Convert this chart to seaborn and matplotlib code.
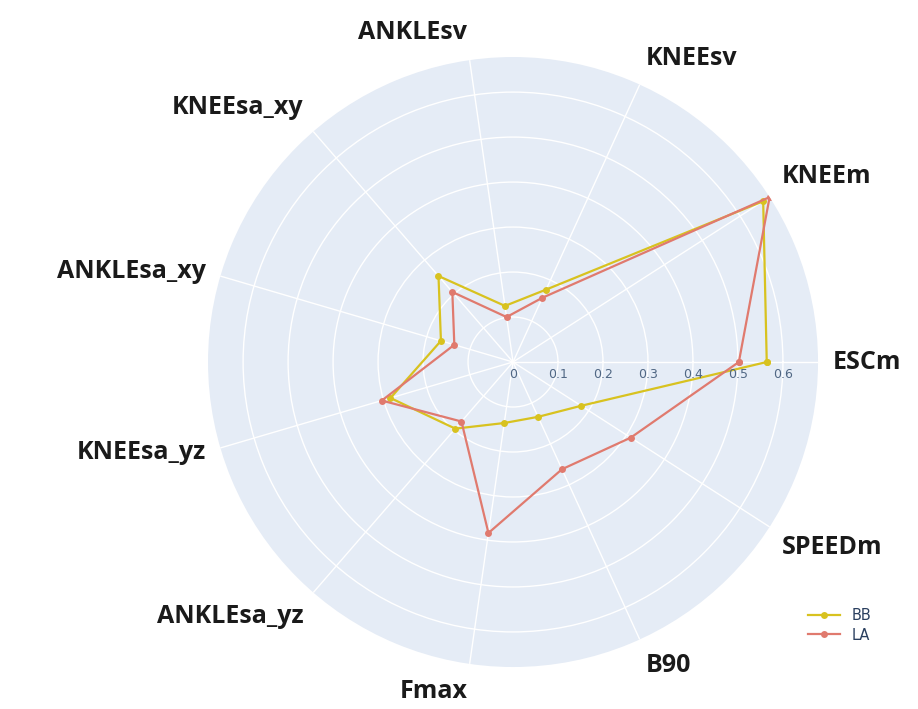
import numpy as np
import pandas as pd
import matplotlib
matplotlib.use("Agg")
import matplotlib.pyplot as plt
import seaborn as sns

categories = ["ESCm", "KNEEm", "KNEEsv", "ANKLEsv", "KNEEsa_xy", "ANKLEsa_xy",
              "KNEEsa_yz", "ANKLEsa_yz", "Fmax", "B90", "SPEEDm"]
bb_values = [0.564, 0.661, 0.177, 0.126, 0.253, 0.167,
             0.284, 0.196, 0.137, 0.134, 0.180]
la_values = [0.502, 0.678, 0.157, 0.101, 0.206, 0.136,
             0.304, 0.175, 0.384, 0.262, 0.311]
radial_ticks = [0, 0.1, 0.2, 0.3, 0.4, 0.5, 0.6]
radial_labels = ["0", "0.1", "0.2", "0.3", "0.4", "0.5", "0.6"]
groups = ["BB", "LA"]
colors = {"BB": "#D8C21F", "LA": "#E07A6E"}

n = len(categories)
angles = np.arange(n) * 2 * np.pi / n

# long table, closing each loop by repeating the first point
rows = []
for name, vals in zip(groups, [bb_values, la_values]):
    for k, i in enumerate(list(range(n)) + [0]):
        theta = 2 * np.pi if k == n else angles[i]
        rows.append({"theta": theta, "value": vals[i], "group": name})
df = pd.DataFrame(rows)

fig = plt.figure(figsize=(9.18, 7.09), dpi=100)
ax = fig.add_axes([0.2266, 0.0592, 0.6645, 0.8604], projection="polar")
ax.set_facecolor("#E5ECF6")
ax.set_theta_zero_location("E")
ax.set_ylim(0, max(la_values))

sns.lineplot(data=df, x="theta", y="value", hue="group", palette=colors,
             sort=False, estimator=None, marker="o", markersize=5,
             markeredgewidth=0, linewidth=1.6, ax=ax)

ax.set_xticks(angles)
ax.set_xticklabels([])
ax.set_yticks(radial_ticks[1:])
ax.set_yticklabels([])
ax.grid(True, color="white", linewidth=1.0)
ax.spines["polar"].set_visible(False)
ax.set_xlabel("")
ax.set_ylabel("")
ax.tick_params(length=0)

for t, lab in zip(radial_ticks, radial_labels):
    ax.annotate(lab, xy=(0, t), xytext=(0, -9), textcoords="offset points",
                ha="center", va="center", fontsize=9, color="#506784",
                family="DejaVu Sans")

label_r = max(la_values) * 320 / 305
for ang, cat in zip(angles, categories):
    c, s = np.cos(ang), np.sin(ang)
    ha = "left" if c > 0.1 else ("right" if c < -0.1 else "center")
    va = "bottom" if s > 0.5 else ("top" if s < -0.5 else "center")
    ax.text(ang, label_r, cat, ha=ha, va=va, fontsize=18, fontweight="bold",
            family="Open Sans", color="#1a1a1a", clip_on=False)

handles, labels = ax.get_legend_handles_labels()
leg = ax.legend(handles, labels, loc="upper left",
                bbox_to_anchor=(795 / 918, 1 - 595 / 709),
                bbox_transform=fig.transFigure, frameon=False,
                fontsize=10.5, handlelength=2.2, labelspacing=0.3)
for txt in leg.get_texts():
    txt.set_color("#2a3f5f")

fig.savefig("out.png", dpi=100, facecolor="white")
